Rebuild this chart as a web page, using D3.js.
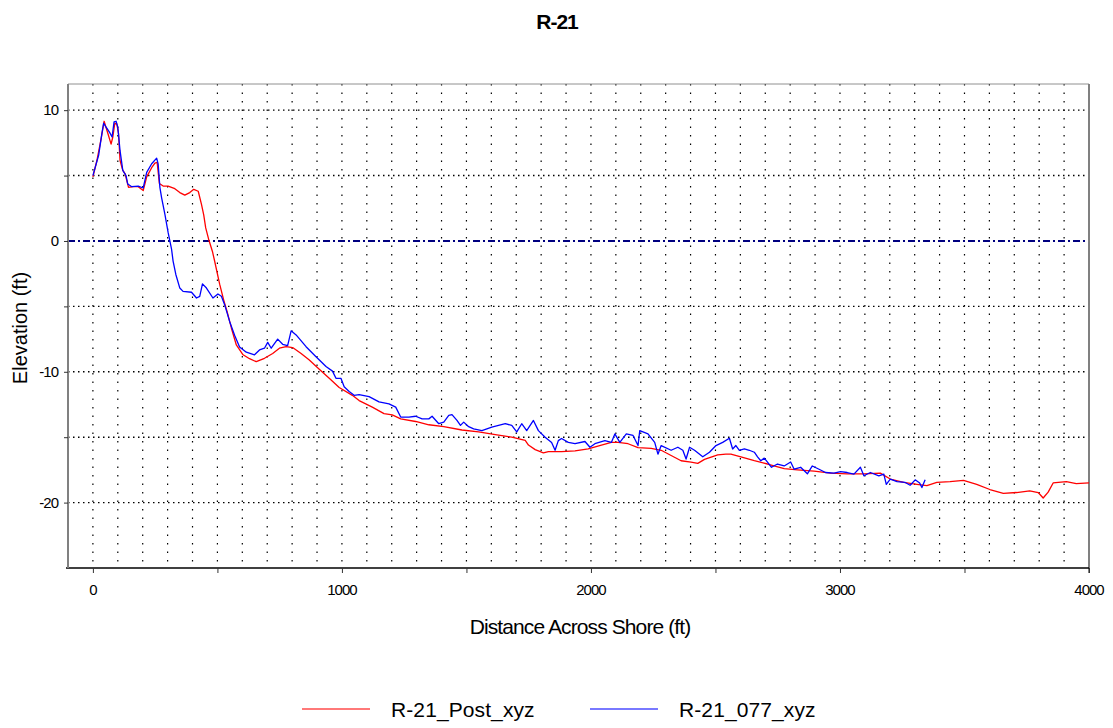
<!DOCTYPE html>
<html lang="en">
  <head>
    <meta charset="utf-8">
    <title>R-21</title>
    <script src="https://d3js.org/d3.v7.min.js"></script>
    <style>
      body { margin: 0; background: #fff; }
      text { font-family: "Liberation Sans", Arial, sans-serif; fill: #000; }
    </style>
  </head>
  <body>
    <div id="chart"></div>
    <script type="text/javascript">
    // profile data: [distance across shore (ft), elevation (ft)]
    var postProfile = [
      [0,4.9],[16,6.15],[32,7.7],[45,9.15],[62,8.1],[73,7.4],[80,7.95],[88,9.0],[96,8.95],[103,8.2],
      [109,6.15],[120,5.4],[129,5.15],[143,4.1],[162,4.15],[182,4.15],[202,3.85],[216,4.9],[236,5.6],
      [249,5.95],[258,6.0],[267,4.4],[282,4.2],[302,4.2],[329,4.0],[349,3.7],[369,3.5],[389,3.7],
      [405,3.95],[423,3.8],[436,2.8],[445,2.0],[453,1.0],[466,0.05],[480,-0.8],[489,-1.55],[509,-3.3],
      [525,-4.5],[539,-5.4],[556,-6.65],[576,-7.95],[603,-8.7],[629,-9.0],[656,-9.23],[689,-8.97],
      [722,-8.6],[749,-8.2],[776,-8.08],[802,-8.15],[836,-8.6],[869,-9.1],[909,-9.8],[949,-10.5],
      [989,-11.2],[1042,-11.8],[1069,-12.2],[1122,-12.7],[1169,-13.2],[1202,-13.3],[1236,-13.6],
      [1296,-13.8],[1349,-14.05],[1409,-14.2],[1482,-14.45],[1549,-14.6],[1616,-14.8],[1682,-15.0],
      [1736,-15.25],[1749,-15.6],[1776,-15.95],[1809,-16.2],[1829,-16.1],[1882,-16.1],[1936,-16.05],
      [1989,-15.9],[2042,-15.6],[2082,-15.4],[2109,-15.4],[2149,-15.5],[2189,-15.8],[2242,-15.85],
      [2282,-16.0],[2322,-16.4],[2362,-16.8],[2402,-16.9],[2429,-17.0],[2456,-16.7],[2509,-16.35],
      [2542,-16.3],[2562,-16.3],[2602,-16.5],[2656,-16.8],[2709,-17.05],[2776,-17.4],[2829,-17.5],
      [2896,-17.6],[2962,-17.75],[3029,-17.8],[3096,-17.8],[3162,-17.75],[3202,-18.2],[3256,-18.45],
      [3309,-18.6],[3349,-18.7],[3389,-18.45],[3442,-18.4],[3496,-18.3],[3549,-18.6],[3602,-19.0],
      [3656,-19.3],[3709,-19.23],[3762,-19.1],[3796,-19.23],[3816,-19.65],[3836,-19.2],[3856,-18.5],
      [3909,-18.4],[3949,-18.55],[4000,-18.5]
    ];

    var oldProfile = [
      [0,5.0],[23,6.55],[36,8.2],[43,9.0],[53,8.7],[67,8.3],[77,7.95],[85,9.1],[93,9.15],[100,8.7],
      [109,6.9],[120,5.4],[133,5.0],[140,4.35],[156,4.15],[182,4.2],[202,4.05],[216,5.25],[236,5.9],
      [256,6.33],[262,5.9],[269,4.1],[276,3.3],[289,2.05],[302,0.65],[309,0],[316,-0.65],[322,-1.54],
      [333,-2.56],[349,-3.6],[362,-3.85],[396,-3.92],[416,-4.36],[429,-4.23],[440,-3.28],[456,-3.6],
      [482,-4.36],[502,-4.05],[516,-4.23],[529,-4.87],[549,-6.15],[569,-7.2],[589,-8.1],[616,-8.5],
      [649,-8.7],[669,-8.33],[689,-8.2],[702,-7.75],[716,-8.2],[742,-7.5],[762,-7.9],[782,-8.0],
      [796,-6.87],[816,-7.18],[856,-8.08],[896,-8.85],[936,-9.6],[962,-9.95],[976,-10.5],[996,-10.5],
      [1009,-11.15],[1029,-11.5],[1049,-11.8],[1069,-11.75],[1109,-11.9],[1149,-12.3],[1189,-12.45],
      [1216,-12.7],[1236,-13.46],[1269,-13.46],[1296,-13.4],[1322,-13.6],[1349,-13.6],[1362,-13.4],
      [1389,-13.97],[1409,-13.85],[1429,-13.33],[1442,-13.28],[1462,-13.72],[1476,-14.1],[1489,-13.85],
      [1509,-14.2],[1529,-14.36],[1562,-14.5],[1602,-14.23],[1629,-14.1],[1656,-13.97],[1682,-14.1],
      [1702,-14.6],[1722,-13.97],[1742,-14.5],[1769,-13.72],[1789,-14.5],[1816,-15.0],[1842,-15.4],
      [1856,-16.0],[1869,-15.26],[1882,-15.1],[1909,-15.4],[1936,-15.5],[1976,-15.33],[1996,-15.77],
      [2016,-15.5],[2056,-15.26],[2082,-15.4],[2096,-14.75],[2116,-15.4],[2142,-14.75],[2169,-14.87],
      [2189,-15.64],[2196,-14.5],[2229,-14.75],[2256,-15.4],[2269,-16.3],[2282,-15.64],[2322,-16.0],
      [2349,-15.77],[2369,-16.0],[2382,-16.67],[2396,-15.77],[2416,-16.0],[2449,-16.5],[2476,-16.15],
      [2502,-15.64],[2529,-15.4],[2556,-15.08],[2569,-15.9],[2582,-15.64],[2596,-16.0],[2616,-15.9],
      [2636,-16.0],[2656,-16.15],[2669,-16.5],[2682,-16.8],[2696,-16.6],[2709,-16.9],[2725,-17.3],
      [2749,-17.05],[2776,-17.2],[2802,-16.9],[2816,-17.45],[2842,-17.3],[2869,-17.8],[2889,-17.2],
      [2916,-17.45],[2942,-17.7],[2976,-17.75],[3002,-17.64],[3029,-17.7],[3056,-17.82],[3082,-17.3],
      [3096,-17.95],[3122,-17.7],[3156,-17.95],[3176,-17.82],[3186,-18.6],[3202,-18.2],[3229,-18.4],
      [3262,-18.46],[3282,-18.67],[3302,-18.26],[3320,-18.5],[3329,-18.85],[3342,-18.26]
    ];

    var seriesNames = ["R-21_Post_xyz", "R-21_077_xyz"];
    var seriesColors = ["#ff0000", "#0000ff"];
    var xLabelTicks = [0, 1000, 2000, 3000, 4000];
    var yLabelTicks = [10, 0, -10, -20];

    var width = 1113, height = 728;
    var margin = {top: 84, right: 24, bottom: 160, left: 68};

    var x = d3.scaleLinear().domain([-100, 4000]).range([margin.left, 1089]);
    var y = d3.scaleLinear().domain([-25, 12]).range([568, margin.top]);

    var svg = d3.select("#chart").append("svg")
      .attr("width", width)
      .attr("height", height);

    // grid: vertical dotted every 100 ft
    svg.append("g").selectAll("line")
      .data(d3.range(0, 4000, 100))
      .enter().append("line")
      .attr("x1", function(d) { return x(d); })
      .attr("x2", function(d) { return x(d); })
      .attr("y1", y(12))
      .attr("y2", y(-25))
      .attr("stroke", "#000")
      .attr("stroke-width", 1.2)
      .attr("stroke-dasharray", "1.5,7");

    // horizontal dotted every 5 ft (zero line drawn separately)
    svg.append("g").selectAll("line")
      .data([10, 5, -5, -10, -15, -20])
      .enter().append("line")
      .attr("x1", x(-100))
      .attr("x2", x(4000))
      .attr("y1", function(d) { return y(d); })
      .attr("y2", function(d) { return y(d); })
      .attr("stroke", "#000")
      .attr("stroke-width", 1.4)
      .attr("stroke-dasharray", "1.5,3.5");

    // zero line
    svg.append("line")
      .attr("x1", x(-100)).attr("x2", x(4000))
      .attr("y1", y(0)).attr("y2", y(0))
      .attr("stroke", "#000080")
      .attr("stroke-width", 2)
      .attr("stroke-dasharray", "7,3,2,3");

    // frame
    svg.append("line")
      .attr("x1", x(-100)).attr("x2", x(4000))
      .attr("y1", y(12)).attr("y2", y(12))
      .attr("stroke", "#909090").attr("stroke-width", 1);
    svg.append("line")
      .attr("x1", x(4000)).attr("x2", x(4000))
      .attr("y1", y(12)).attr("y2", y(-25) + 5)
      .attr("stroke", "#808080").attr("stroke-width", 2);

    // X axis
    var xAxis = svg.append("g")
      .attr("transform", "translate(0," + y(-25) + ")")
      .call(d3.axisBottom(x).tickValues(d3.range(0, 4001, 500)).tickSize(5).tickFormat(""));
    xAxis.select(".domain").attr("d", "M" + (x(-100) - 2) + ",0H" + x(4000))
      .attr("stroke", "#000").attr("stroke-width", 1.5);
    xAxis.selectAll(".tick line").attr("stroke", "#333");

    svg.append("g").selectAll("text")
      .data(xLabelTicks)
      .enter().append("text")
      .attr("x", function(d) { return x(d); })
      .attr("y", 595)
      .attr("text-anchor", "middle")
      .style("font-size", "15px")
      .style("letter-spacing", "-1px")
      .text(function(d) { return d; });

    // Y axis
    var yAxis = svg.append("g")
      .attr("transform", "translate(" + x(-100) + ",0)")
      .call(d3.axisLeft(y).tickValues(d3.range(-20, 11, 5)).tickSize(4).tickFormat(""));
    yAxis.select(".domain").attr("d", "M0," + y(12) + "V" + y(-25))
      .attr("stroke", "#808080").attr("stroke-width", 2);
    yAxis.selectAll(".tick line").attr("stroke", "#333");

    svg.append("g").selectAll("text")
      .data(yLabelTicks)
      .enter().append("text")
      .attr("x", 58)
      .attr("y", function(d) { return y(d) + 5; })
      .attr("text-anchor", "end")
      .style("font-size", "15px")
      .style("letter-spacing", "-1px")
      .text(function(d) { return d; });

    // profile lines
    var valueline = d3.line()
      .x(function(d) { return x(d[0]); })
      .y(function(d) { return y(d[1]); });

    [postProfile, oldProfile].forEach(function(data, i) {
      svg.append("path")
        .datum(data)
        .attr("fill", "none")
        .attr("stroke", seriesColors[i])
        .attr("stroke-width", 1.3)
        .attr("stroke-linejoin", "round")
        .attr("d", valueline);
    });

    // titles
    svg.append("text")
      .attr("x", 557).attr("y", 29)
      .attr("text-anchor", "middle")
      .style("font-size", "21px")
      .style("font-weight", "bold")
      .style("letter-spacing", "-1px")
      .text("R-21");

    svg.append("text")
      .attr("x", 580).attr("y", 634)
      .attr("text-anchor", "middle")
      .style("font-size", "21px")
      .style("letter-spacing", "-0.9px")
      .text("Distance Across Shore (ft)");

    svg.append("text")
      .attr("transform", "translate(27,328) rotate(-90)")
      .attr("text-anchor", "middle")
      .style("font-size", "20px")
      .text("Elevation (ft)");

    // legend
    var legendX = [302, 590];
    var legend = svg.append("g").selectAll("g")
      .data(seriesNames)
      .enter().append("g")
      .attr("transform", function(d, i) { return "translate(" + legendX[i] + ",709)"; });
    legend.append("line")
      .attr("x1", 0).attr("x2", 68)
      .attr("stroke", function(d, i) { return seriesColors[i]; })
      .attr("stroke-opacity", 0.7)
      .attr("stroke-width", 1.3);
    legend.append("text")
      .attr("x", 89).attr("y", 8)
      .style("font-size", "21px")
      .style("letter-spacing", "0.1px")
      .text(function(d) { return d; });
    </script>
  </body>
</html>
